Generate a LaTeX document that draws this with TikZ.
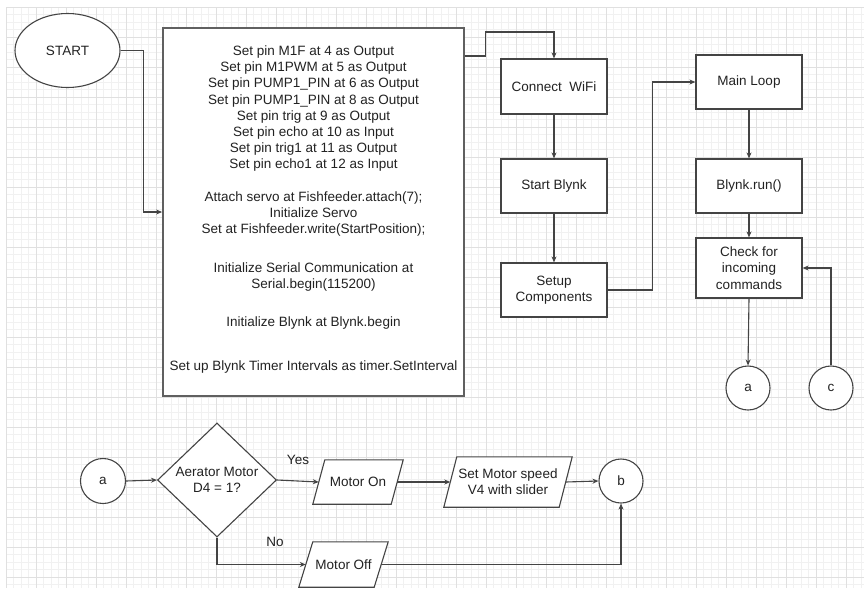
\documentclass[tikz,border=0pt]{standalone}
\usepackage{fontspec}
\setmainfont{Liberation Sans}
\usetikzlibrary{shapes.geometric,arrows.meta}
\definecolor{minorgrid}{HTML}{F1F1F1}
\definecolor{majorgrid}{HTML}{E0E0E0}
\definecolor{edge}{HTML}{444444}
\definecolor{ink}{HTML}{222222}
\tikzset{
  txt/.style={font=\fontsize{13.5}{16.2}\selectfont, text=ink},
  proc/.style={txt, draw=edge, line width=1.2pt, fill=white, rectangle, align=center,
    minimum width=106pt, minimum height=54pt, inner sep=0pt},
  conn/.style={txt, draw=edge, line width=1.1pt, fill=white, circle, minimum size=44pt, inner sep=0pt},
  parabody/.style={txt, rectangle, align=center, inner sep=0pt},
  paraline/.style={draw=edge, line width=1.1pt, fill=white, line join=miter},
  arr/.style={draw=edge, line width=1.1pt, -{Stealth[length=6pt,width=5pt]}},
  lbl/.style={txt}
}
\newcommand{\paraoutline}[2]{%
  \filldraw[paraline] ([xshift=#2]#1.north west) -- ([xshift=#2]#1.north east)
    -- ([xshift=-#2]#1.south east) -- ([xshift=-#2]#1.south west) -- cycle;}
\begin{document}
\begin{tikzpicture}[x=1pt,y=-1pt]
\useasboundingbox (0,0) rectangle (864,590);
\fill[white] (0,0) rectangle (864,590);
% grid
\foreach \i in {0,...,114} {\draw[minorgrid, line width=0.6pt] ({6+7.5*\i},7) -- ({6+7.5*\i},588);}
\foreach \j in {0,...,77} {\draw[minorgrid, line width=0.6pt] (6,{7+7.5*\j}) -- (864,{7+7.5*\j});}
\foreach \i in {0,...,28} {\draw[majorgrid, line width=0.8pt] ({6+30*\i},7) -- ({6+30*\i},588);}
\foreach \j in {0,...,19} {\draw[majorgrid, line width=0.8pt] (6,{7+30*\j}) -- (864,{7+30*\j});}

% nodes
\node[txt, draw=edge, line width=1.1pt, fill=white, ellipse, minimum width=105pt, minimum height=74pt, inner sep=0pt] (start) at (67.5,50.5) {START};
\node[draw=edge!85, line width=1.8pt, fill=white, rectangle, minimum width=301pt, minimum height=368pt, inner sep=0pt] (box) at (313.5,212) {};
\node[txt, align=center, anchor=north, inner sep=0pt] (boxtext) at (313.5,45.5) {%
Set pin M1F at 4 as Output\\
Set pin M1PWM at 5 as Output\\
Set pin PUMP1\_PIN at 6 as Output\\
Set pin PUMP1\_PIN at 8 as Output\\
Set pin trig at 9 as Output\\
Set pin echo at 10 as Input\\
Set pin trig1 at 11 as Output\\
Set pin echo1 at 12 as Input\\[16.2pt]
Attach servo at Fishfeeder.attach(7);\\
Initialize Servo\\
Set at Fishfeeder.write(StartPosition);\\[22.8pt]
Initialize Serial Communication at\\
Serial.begin(115200)\\[21pt]
Initialize Blynk at Blynk.begin\\[27.8pt]
Set up Blynk Timer Intervals as timer.SetInterval};

\node[proc, minimum height=55pt] (wifi) at (554,86.5) {Connect\ \ WiFi};
\node[proc] (blynk) at (554,186) {Start Blynk};
\node[proc] (comps) at (554,290) {Setup\\Components};
\node[proc] (mainloop) at (749,82) {Main Loop};
\node[proc] (run) at (749,186) {Blynk.run()};
\node[proc, minimum height=60pt, font=\fontsize{13.5}{16.5}\selectfont] (check) at (749,268) {Check for\\incoming\\commands};
\node[conn] (ca) at (748,388) {a};
\node[conn] (cc) at (831,388) {c};

\node[conn, minimum size=45pt] (a2) at (103,481) {a};
\node[txt, draw=edge, line width=1.1pt, fill=white, diamond, aspect=1.04, minimum width=119pt, minimum height=114pt, inner sep=0pt, align=center] (dec) at (217,480) {Aerator Motor\\D4 = 1?};

% parallelograms: body node gives the mid-width box, outline is slanted around it
\node[parabody, minimum width=78pt, minimum height=44pt] (mon) at (358,482) {};
\paraoutline{mon}{6pt}
\node[txt] (montext) at (mon.center) {Motor On};
\node[parabody, minimum width=115pt, minimum height=50pt] (speed) at (508,482) {};
\paraoutline{speed}{6.5pt}
\node[txt, align=center] (speedtext) at (speed.center) {Set Motor speed\\V4 with slider};
\node[parabody, minimum width=75pt, minimum height=45pt] (moff) at (343.5,564.5) {};
\paraoutline{moff}{7pt}
\node[txt] (mofftext) at (moff.center) {Motor Off};

\node[conn] (b) at (621,481) {b};

\node[lbl] (yes) at (298,460) {Yes};
\node[lbl] (no) at (275,542) {No};

% connectors
\draw[arr] (start.east) -- ++(23,0) |- (box.west);
\draw[arr] (box.east |- 0,56) -- ++(21,0) -- ++(0,-24) -| (wifi.north);
\draw[arr] (wifi.south) -- (blynk.north);
\draw[arr] (blynk.south) -- (comps.north);
\draw[arr] (comps.east) -- ++(45,0) |- (mainloop.west);
\draw[arr] (mainloop.south) -- (run.north);
\draw[arr] (run.south) -- (check.north);
\draw[arr] (check.south) -- (ca.north);
\draw[arr] (cc.north) |- (check.east);

\draw[arr] (a2.east) -- (dec.west);
\draw[arr] (dec.east) -- (mon.west);
\draw[arr] (mon.east) -- (speed.west);
\draw[arr] (speed.east) -- (b.west);
\draw[arr] (dec.south) |- (moff.west);
\draw[arr] (moff.east) -| (b.south);
\end{tikzpicture}
\end{document}
